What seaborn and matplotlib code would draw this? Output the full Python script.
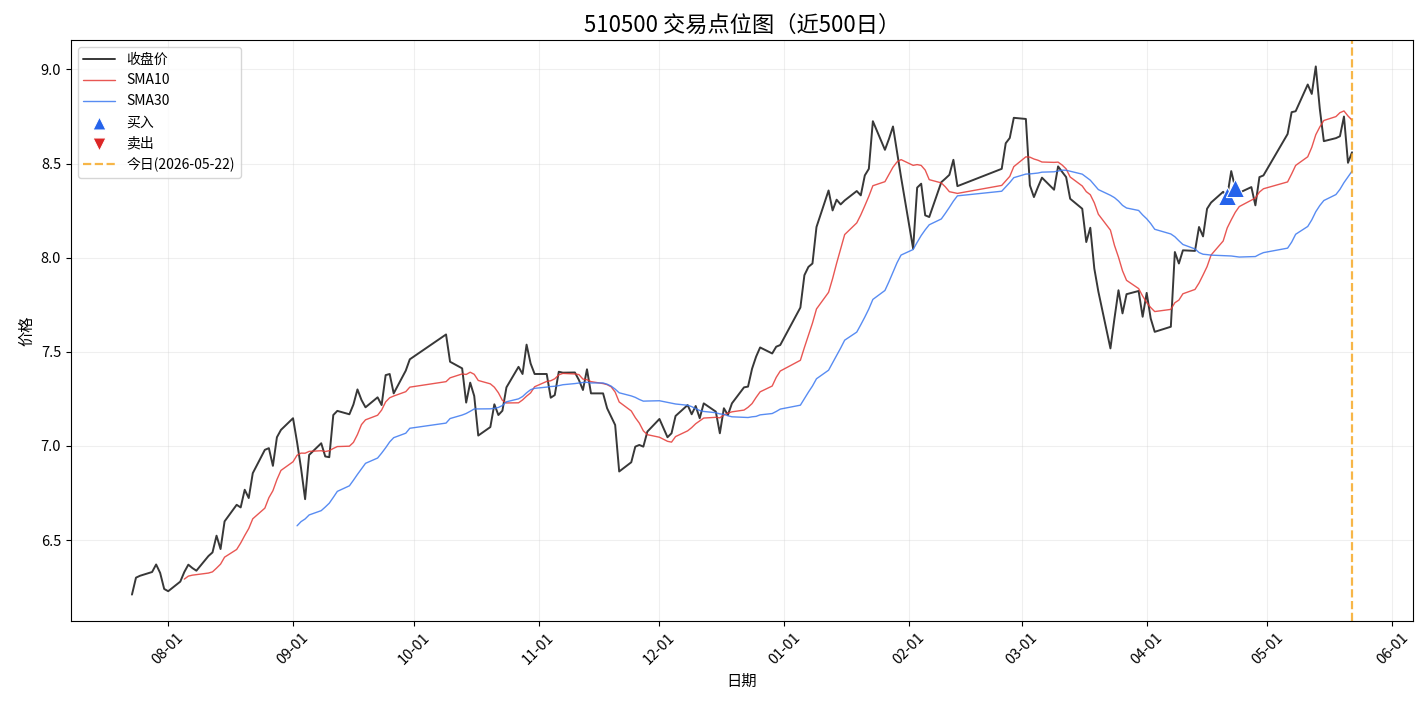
import numpy as np
import pandas as pd
import matplotlib
matplotlib.use("Agg")
import matplotlib.pyplot as plt
import matplotlib.dates as mdates
import seaborn as sns

# ---------------- data ----------------
start_date = "2025-07-23"
end_date = "2026-05-22"
holidays = ["2025-10-01", "2025-10-02", "2025-10-03", "2025-10-06", "2025-10-07", "2025-10-08",
            "2026-01-01", "2026-01-02",
            "2026-02-16", "2026-02-17", "2026-02-18", "2026-02-19", "2026-02-20", "2026-02-23",
            "2026-04-06",
            "2026-05-01", "2026-05-04", "2026-05-05"]

close_jul = [6.21, 6.30, 6.31, 6.33, 6.37, 6.325, 6.24]
close_aug = [6.228, 6.279, 6.33, 6.369, 6.351, 6.337, 6.415, 6.434, 6.523, 6.452, 6.599,
             6.687, 6.673, 6.767, 6.723, 6.855, 6.979, 6.988, 6.894, 7.046, 7.085]
close_sep = [7.147, 7.02, 6.88, 6.717, 6.952, 7.014, 6.944, 6.94, 7.164, 7.186, 7.168,
             7.22, 7.30, 7.244, 7.205, 7.258, 7.217, 7.376, 7.382, 7.279, 7.40, 7.46]
close_oct = [7.592, 7.447, 7.412, 7.23, 7.336, 7.265, 7.055, 7.10, 7.221, 7.164, 7.187,
             7.311, 7.42, 7.382, 7.538, 7.438, 7.382]
close_nov = [7.382, 7.256, 7.27, 7.394, 7.389, 7.39, 7.35, 7.297, 7.407, 7.279, 7.279,
             7.20, 7.156, 7.111, 6.864, 6.913, 6.996, 7.005, 6.996, 7.076]
close_dec = [7.143, 7.094, 7.046, 7.067, 7.159, 7.217, 7.168, 7.212, 7.147, 7.226, 7.182,
             7.067, 7.20, 7.164, 7.226, 7.311, 7.315, 7.41, 7.474, 7.523, 7.491, 7.527, 7.536]
close_jan = [7.735, 7.907, 7.951, 7.969, 8.163, 8.357, 8.251, 8.308, 8.283, 8.304, 8.354,
             8.331, 8.437, 8.472, 8.725, 8.573, 8.631, 8.697, 8.562, 8.428]
close_feb = [8.048, 8.372, 8.393, 8.225, 8.216, 8.401, 8.42, 8.44, 8.52, 8.38, 8.472,
             8.608, 8.636, 8.743]
close_mar = [8.737, 8.384, 8.322, 8.375, 8.425, 8.361, 8.485, 8.456, 8.428, 8.313, 8.26,
             8.083, 8.159, 7.942, 7.82, 7.518, 7.677, 7.827, 7.704, 7.806, 7.823, 7.686]
close_apr = [7.813, 7.677, 7.606, 7.633, 8.03, 7.969, 8.039, 8.036, 8.163, 8.113, 8.26,
             8.293, 8.35, 8.325, 8.46, 8.37, 8.345, 8.375, 8.278, 8.428, 8.437]
close_may = [8.657, 8.773, 8.778, 8.92, 8.87, 9.016, 8.79, 8.619, 8.635, 8.645, 8.75,
             8.504, 8.56]

buy_dates = ["2026-04-21", "2026-04-23"]
buy_prices = [8.325, 8.37]
sell_dates = []
sell_prices = []

title = "510500 交易点位图（近500日）"
today_label = "今日(2026-05-22)"

# ---------------- build frame ----------------
dates = pd.bdate_range(start_date, end_date)
dates = dates[~dates.isin(pd.to_datetime(holidays))]
close = (close_jul + close_aug + close_sep + close_oct + close_nov + close_dec +
         close_jan + close_feb + close_mar + close_apr + close_may)
assert len(dates) == len(close), (len(dates), len(close))
df = pd.DataFrame({"date": dates, "close": close})
df["sma10"] = df["close"].rolling(10).mean()
df["sma30"] = df["close"].rolling(30).mean()

buys = pd.DataFrame({"date": pd.to_datetime(buy_dates), "price": buy_prices})

# ---------------- style ----------------
sns.set_style("ticks")
plt.rcParams["font.family"] = ["Noto Sans CJK SC", "DejaVu Sans"]
plt.rcParams["axes.unicode_minus"] = False
plt.rcParams["axes.edgecolor"] = "black"
plt.rcParams["xtick.color"] = "black"
plt.rcParams["ytick.color"] = "black"
plt.rcParams["text.color"] = "black"
plt.rcParams["axes.labelcolor"] = "black"

fig, ax = plt.subplots(figsize=(14.25, 7.06), dpi=100)
fig.subplots_adjust(left=0.0498, right=0.9916, top=0.9433, bottom=0.1204)

sns.lineplot(data=df, x="date", y="close", ax=ax, color="#222222", alpha=0.9,
             linewidth=1.4, label="收盘价")
sns.lineplot(data=df, x="date", y="sma10", ax=ax, color="#e53935", alpha=0.85,
             linewidth=1.0, label="SMA10")
sns.lineplot(data=df, x="date", y="sma30", ax=ax, color="#3b78f0", alpha=0.85,
             linewidth=1.0, label="SMA30")
sns.scatterplot(data=buys, x="date", y="price", ax=ax, marker="^", s=170,
                color="#2563eb", edgecolor="white", linewidth=0.8, zorder=5, label="买入")
ax.scatter(pd.to_datetime(sell_dates), sell_prices, marker="v", s=170,
           color="#dc2626", edgecolor="white", linewidth=0.8, zorder=5, label="卖出")
ax.axvline(pd.Timestamp(end_date), color="#f59e0b", linestyle="--", linewidth=1.6,
           alpha=0.75, label=today_label)

ax.set_title(title, fontsize=16)
ax.set_xlabel("日期", fontsize=11)
ax.set_ylabel("价格", fontsize=11)
ax.grid(True, alpha=0.3)
ax.xaxis.set_major_locator(mdates.MonthLocator())
ax.xaxis.set_major_formatter(mdates.DateFormatter("%m-%d"))
for lab in ax.get_xticklabels():
    lab.set_rotation(45)
ax.tick_params(axis="both", labelsize=10.5)
ax.legend(loc="upper left", fontsize=10, frameon=True, handlelength=2.3, markerscale=0.72)

fig.savefig("out.png", dpi=100)
